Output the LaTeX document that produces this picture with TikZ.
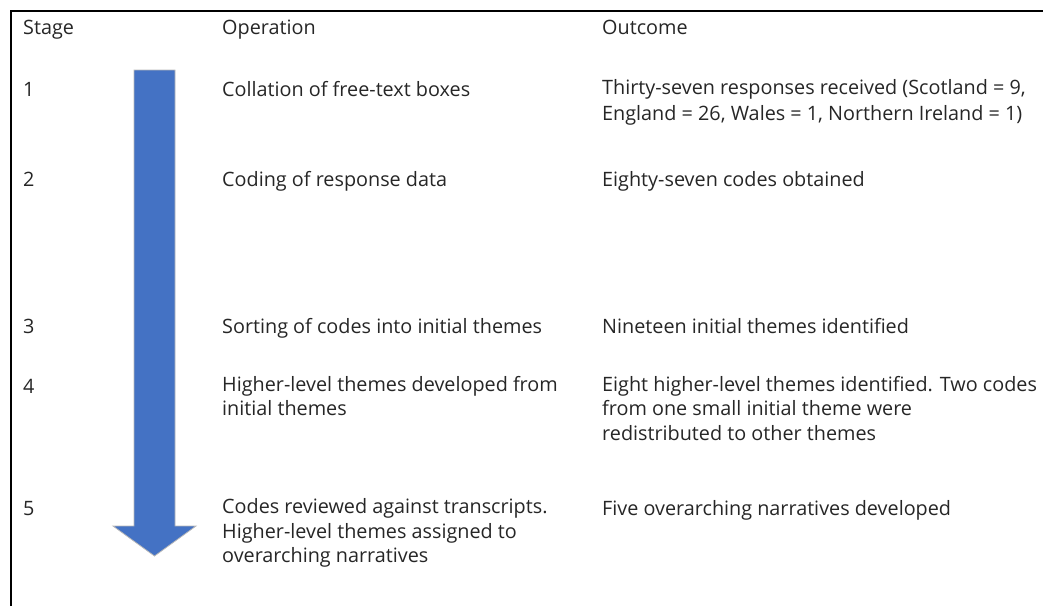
\documentclass[tikz,border=0pt]{standalone}
\usepackage{fontspec}
\setmainfont{Open Sans}
\definecolor{arrowblue}{HTML}{4472C4}
\definecolor{txt}{HTML}{262626}
\begin{document}
\begin{tikzpicture}[x=1pt,y=-1pt,
  cell/.style={anchor=base west,inner sep=0pt,text=txt,font=\fontsize{19.8}{24.5}\selectfont,align=left},
  multi/.style={cell,anchor=north west},
  frame/.style={line width=1.2pt,draw=black}]
\useasboundingbox (0,0) rectangle (1043,606);
\coordinate (tr) at (1043,11);
\coordinate (tl) at (11,11);
\coordinate (bl) at (11,606);
\draw[frame] (bl) -- (tl) -- (tr);
% arrow
\draw[fill=arrowblue,draw=black!28,line width=0.8pt]
  (134,70) -- (175,70) -- (175,526) -- (196,526) -- (154.5,556) -- (113,526) -- (134,526) -- cycle;
% header
\node[cell] (hs) at (23,34) {Stage};
\node[cell] (ho) at (222,34) {Operation};
\node[cell] (hc) at (602,34) {Outcome};
% row 1
\node[cell] (s1) at (23,96) {1};
\node[cell] (o1) at (222,96) {Collation of free-text boxes};
\node[multi] (c1) at (602,79.5) {Thirty-seven responses received (Scotland = 9,\\[1.5pt]England = 26, Wales = 1, Northern Ireland = 1)};
% row 2
\node[cell] (s2) at (23,186) {2};
\node[cell] (o2) at (222,186) {Coding of response data};
\node[cell] (c2) at (602,186) {Eighty-seven codes obtained};
% row 3
\node[cell] (s3) at (23,333) {3};
\node[cell] (o3) at (222,333) {Sorting of codes into initial themes};
\node[cell] (c3) at (602,333) {Nineteen initial themes identified};
% row 4
\node[cell] (s4) at (23,393) {4};
\node[multi] (o4) at (222,376) {Higher-level themes developed from\\initial themes};
\node[multi] (c4) at (602,376) {Eight higher-level themes identified. Two codes\\from one small initial theme were\\redistributed to other themes};
% row 5
\node[cell] (s5) at (23,515) {5};
\node[multi] (o5) at (222,498.5) {Codes reviewed against transcripts.\\Higher-level themes assigned to\\overarching narratives};
\node[cell] (c5) at (602,515) {Five overarching narratives developed};
\end{tikzpicture}
\end{document}
